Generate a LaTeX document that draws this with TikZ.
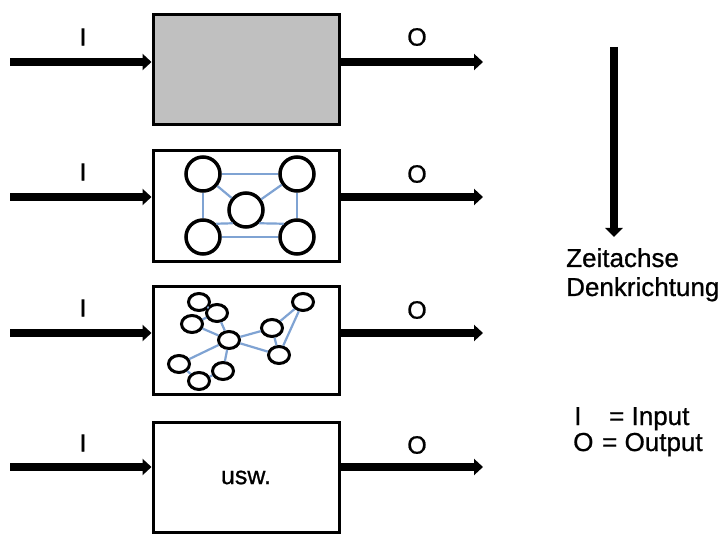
\documentclass[tikz,border=0pt]{standalone}
\usepackage{fontspec}
\setmainfont{Liberation Sans}[BoldFont={Liberation Sans},BoldFeatures={FakeBold=0.8}]
\usetikzlibrary{arrows.meta,shapes.geometric}
\definecolor{netblue}{HTML}{7FA3D3}
\definecolor{boxgray}{HTML}{C0C0C0}
\begin{document}
\begin{tikzpicture}[x=1pt,y=-1pt,
  procbox/.style={draw=black,line width=3pt,minimum width=186pt,inner sep=0pt},
  flow/.style={line width=7.5pt,-{Triangle[length=9pt,width=16pt]}},
  lbl/.style={font=\fontsize{25}{27}\selectfont\bfseries,inner sep=0pt},
  rlbl/.style={font=\fontsize{26}{28}\selectfont\bfseries,inner sep=0pt,anchor=base west},
  bignode/.style={circle,draw=black,line width=3.5pt,minimum size=34pt,inner sep=0pt},
  smallnode/.style={ellipse,draw=black,line width=3pt,minimum width=21pt,minimum height=17pt,inner sep=0pt},
  link/.style={netblue,line width=2.2pt}]
\useasboundingbox (0,0) rectangle (723,534);
% boxes
\node[procbox,fill=boxgray,minimum height=110pt] (b1) at (246,70) {};
\node[procbox,fill=white,minimum height=111pt] (b2) at (246,206.5) {};
\node[procbox,fill=white,minimum height=108pt] (b3) at (246,341) {};
\node[procbox,fill=white,minimum height=109pt,font=\fontsize{25}{27}\selectfont\bfseries] (b4) at (246,477.5) {usw.};
% flow endpoints
\coordinate (i1) at (10,62);  \coordinate (o1) at (483,62);
\coordinate (i2) at (10,197); \coordinate (o2) at (483,197);
\coordinate (i3) at (10,333); \coordinate (o3) at (483,333);
\coordinate (i4) at (10,467); \coordinate (o4) at (483,467);
\foreach \k in {1,2,3,4}{
  \draw[flow] (i\k) -- (i\k -| b\k.west);
  \draw[flow] (b\k.east |- o\k) -- (o\k);
}
% I / O labels
\node[lbl] (li1) at (83,37) {I};  \node[lbl] (lo1) at (417,37) {O};
\node[lbl] (li2) at (83,172) {I}; \node[lbl] (lo2) at (417,174) {O};
\node[lbl] (li3) at (83,308) {I}; \node[lbl] (lo3) at (417,310) {O};
\node[lbl] (li4) at (83,443) {I}; \node[lbl] (lo4) at (417,445) {O};
% network in box 2
\node[bignode] (tl) at (203,174) {};
\node[bignode] (tr) at (297,174) {};
\node[bignode] (cc) at (246,210) {};
\node[bignode] (bl) at (203,237) {};
\node[bignode] (br) at (297,237) {};
\draw[link] (tl) -- (tr);
\draw[link] (bl) -- (br);
\draw[link] (tl) -- (bl);
\draw[link] (tr) -- (br);
\draw[link] (tl) -- (cc);
\draw[link] (cc) -- (tr);
\draw[link] (bl.north east) -- (cc.south west);
\draw[link] (cc.south east) -- (br.north west);
% network in box 3
\node[smallnode] (na) at (199,302) {};
\node[smallnode] (nb) at (217,313) {};
\node[smallnode] (nc) at (192,324) {};
\node[smallnode] (nd) at (229,340) {};
\node[smallnode] (ne) at (272,328) {};
\node[smallnode] (nf) at (303,302) {};
\node[smallnode] (ng) at (279,355) {};
\node[smallnode] (nh) at (179,364) {};
\node[smallnode] (ni) at (199,381) {};
\node[smallnode] (nj) at (223,371) {};
\draw[link] (na) -- (nb);
\draw[link] (nc) -- (nb);
\draw[link] (nc) -- (nd);
\draw[link] (nb) -- (nd);
\draw[link] (nd) -- (nh);
\draw[link] (nd) -- (nj);
\draw[link] (nd) -- (ne);
\draw[link] (nd) -- (ng);
\draw[link] (ne) -- (nf);
\draw[link] (ne) -- (ng);
\draw[link] (ng) -- (nf);
\draw[link] (nh) -- (ni);
\draw[link] (ni) -- (nj);
% time axis
\coordinate (t0) at (614,47);
\coordinate (t1) at (614,237);
\draw[line width=8.5pt,-{Triangle[length=9pt,width=17pt]}] (t0) -- (t1);
\node[rlbl] (zt) at (566,267) {Zeitachse};
\node[rlbl] (dk) at (566,296) {Denkrichtung};
% legend
\node[rlbl] (lgi) at (574,425) {I};
\node[rlbl] (lgi2) at (609,425) {= Input};
\node[rlbl] (lgo) at (573,451) {O};
\node[rlbl] (lgo2) at (602,451) {= Output};
\end{tikzpicture}
\end{document}
